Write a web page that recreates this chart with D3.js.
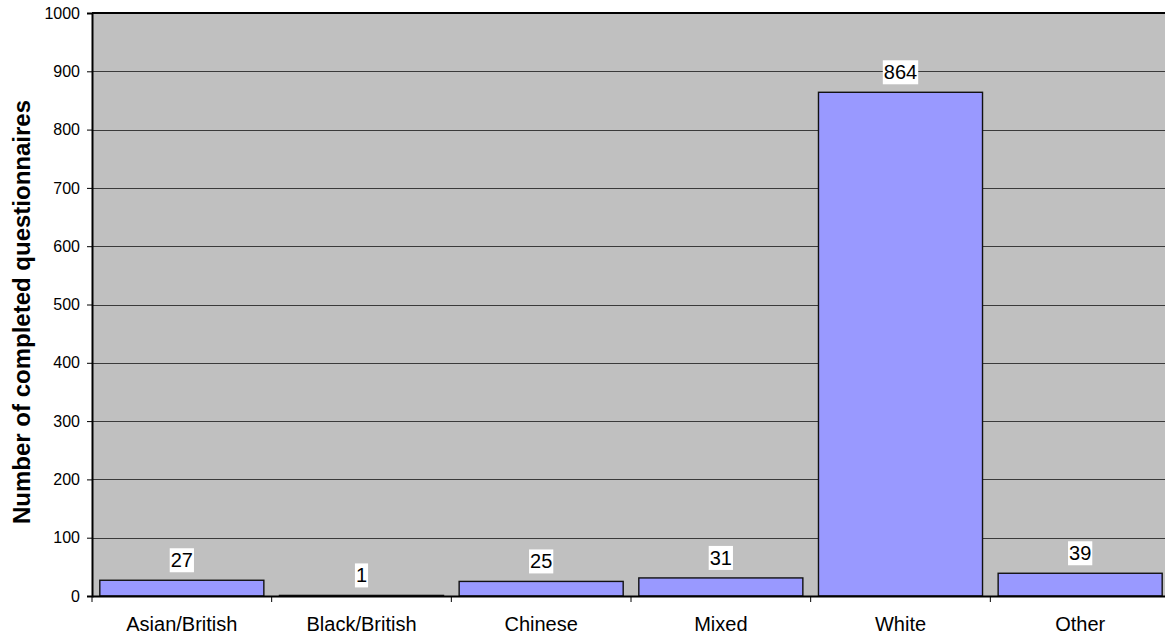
<!DOCTYPE html>
<html>
<head>
<meta charset="utf-8">
<script src="https://cdn.jsdelivr.net/npm/d3@7"></script>
<style>
  html, body { margin: 0; padding: 0; background: #fff; }
  svg { display: block; }
  text { font-family: "Liberation Sans", Arial, Helvetica, sans-serif; fill: #000; }
</style>
</head>
<body>
<svg id="chart" width="1165" height="636"></svg>
<script>
const categories = ["Asian/British", "Black/British", "Chinese", "Mixed", "White", "Other"];
const values = [27, 1, 25, 31, 864, 39];
const yTicks = [0, 100, 200, 300, 400, 500, 600, 700, 800, 900, 1000];
const yTitle = "Number of completed questionnaires";

const svg = d3.select("#chart");
const pLeft = 92, pRight = 1170, pTop = 13, pBottom = 596;
const pad = 0.087;

const x = d3.scaleBand().domain(categories).range([pLeft, pRight])
  .paddingInner(pad).paddingOuter(pad / 2);
const y = d3.scaleLinear().domain([0, 1000]).range([pBottom, pTop]);

// plot background
svg.append("rect").attr("x", pLeft).attr("y", pTop)
  .attr("width", pRight - pLeft).attr("height", pBottom - pTop)
  .attr("fill", "#C0C0C0");

// gridlines
svg.append("g").selectAll("line").data(yTicks.filter(d => d > 0 && d < 1000)).join("line")
  .attr("x1", pLeft).attr("x2", pRight)
  .attr("y1", d => Math.round(y(d)) + 0.5).attr("y2", d => Math.round(y(d)) + 0.5)
  .attr("stroke", "#3a3a3a").attr("stroke-width", 1);

// top border
svg.append("line").attr("x1", pLeft).attr("x2", pRight)
  .attr("y1", pTop).attr("y2", pTop).attr("stroke", "#000").attr("stroke-width", 2);

// bars
svg.append("g").selectAll("rect").data(values).join("rect")
  .attr("x", (d, i) => x(categories[i]))
  .attr("y", d => y(d))
  .attr("width", x.bandwidth())
  .attr("height", d => y(0) - y(d))
  .attr("fill", "#9999FF")
  .attr("stroke", "#111").attr("stroke-width", 1.4);

// y axis
const yAxis = d3.axisLeft(y).tickValues(yTicks).tickSize(5).tickPadding(7).tickFormat(d3.format("d"));
const gy = svg.append("g").attr("transform", `translate(${pLeft},0)`).call(yAxis);
gy.select(".domain").attr("stroke", "#000").attr("stroke-width", 2);
gy.selectAll(".tick line").attr("stroke", "#000").attr("stroke-width", 1);
gy.selectAll(".tick text").attr("font-size", 16).attr("fill", "#000")
  .attr("font-family", '"Liberation Sans", Arial, sans-serif');

// x axis
const xAxis = d3.axisBottom(x).tickSize(0).tickPadding(21);
const gx = svg.append("g").attr("transform", `translate(0,${pBottom})`).call(xAxis);
gx.select(".domain").attr("stroke", "#000").attr("stroke-width", 2);
gx.selectAll(".tick text").attr("font-size", 20).attr("fill", "#000")
  .attr("font-family", '"Liberation Sans", Arial, sans-serif');

// category boundary ticks
const bounds = categories.map(c => x(c) - x.step() * pad / 2);
svg.append("g").selectAll("line").data(bounds).join("line")
  .attr("x1", d => d).attr("x2", d => d)
  .attr("y1", pBottom).attr("y2", pBottom + 6)
  .attr("stroke", "#000").attr("stroke-width", 1);

// data labels
const lg = svg.append("g");
values.forEach((v, i) => {
  const cx = x(categories[i]) + x.bandwidth() / 2;
  const cy = y(v) - 20;
  const g = lg.append("g");
  const t = g.append("text").attr("x", cx).attr("y", cy)
    .attr("text-anchor", "middle").attr("dominant-baseline", "central")
    .attr("font-size", 20).text(v);
  const bb = t.node().getBBox();
  g.insert("rect", "text")
    .attr("x", bb.x - 1).attr("y", cy - 12)
    .attr("width", bb.width + 2).attr("height", 24)
    .attr("fill", "#fff");
});

// y title
svg.append("text")
  .attr("transform", `translate(30,312) rotate(-90)`)
  .attr("text-anchor", "middle")
  .attr("font-size", 24).attr("font-weight", "bold")
  .text(yTitle);
</script>
</body>
</html>
